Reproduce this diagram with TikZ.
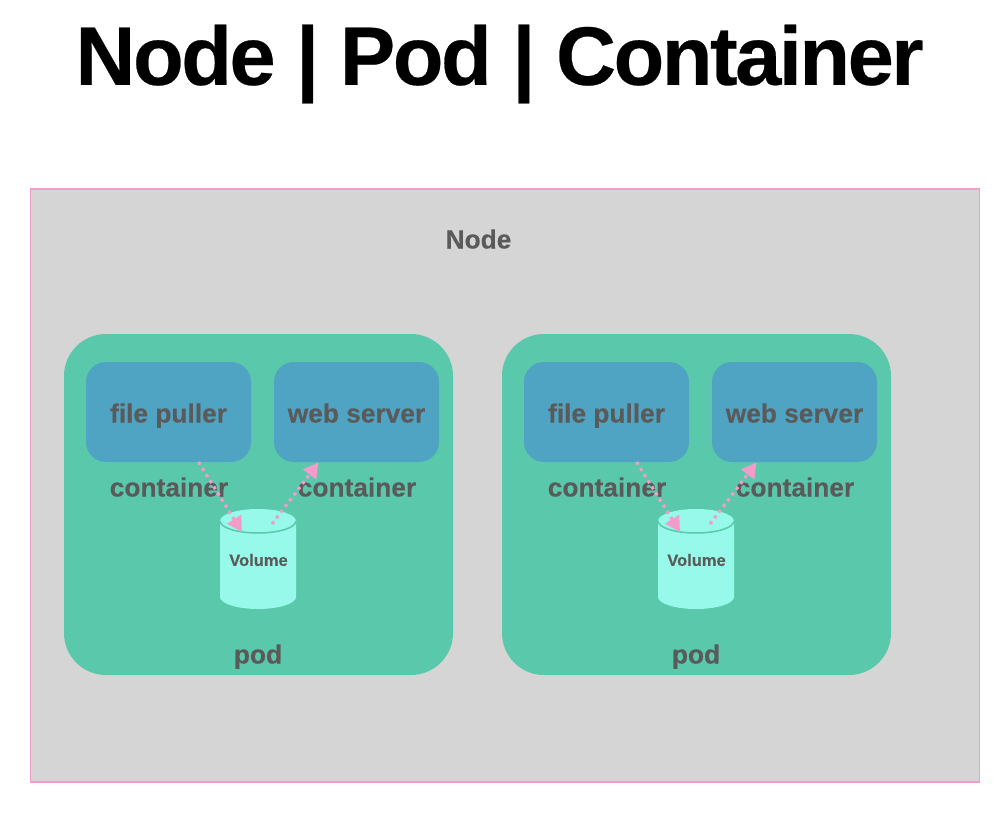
\documentclass[tikz,border=0pt]{standalone}
\usepackage{fontspec}
\setmainfont{Liberation Sans}
\newfontfamily\titlefont[LetterSpace=-3.0,FakeBold=0.3]{Liberation Sans Bold}
\newfontfamily\labelfont[FakeBold=0.2]{Liberation Sans Bold}
\usetikzlibrary{arrows.meta}
\definecolor{nodegray}{HTML}{D5D5D5}
\definecolor{podgreen}{HTML}{5AC8AB}
\definecolor{boxblue}{HTML}{4EA4C2}
\definecolor{voltop}{HTML}{96F9E9}
\definecolor{pinkline}{HTML}{F29CC9}
\definecolor{txt}{HTML}{5A5A5A}
\tikzset{
  x=1pt,y=-1pt,
  lbl/.style={text=txt,font=\labelfont\fontsize{26.3}{30}\selectfont,inner sep=0pt,anchor=center,text height=19pt,text depth=6pt},
  podbox/.style={fill=podgreen,rounded corners=42pt},
  ctrbox/.style={fill=boxblue,rounded corners=20pt},
  flow/.style={draw=pinkline,line width=3.2pt,dash pattern=on 3.2pt off 4pt,-{Triangle[length=15pt,width=16pt,fill=pinkline]}},
}
\begin{document}
\begin{tikzpicture}
\useasboundingbox (0,0) rectangle (1006,816);
\node[inner sep=0pt,text=black,font=\titlefont\fontsize{83}{90}\selectfont] (title) at (499.5,64) {Node | Pod | Container};
\node[draw=pinkline,fill=nodegray,line width=1.2pt,minimum width=949pt,minimum height=593pt,inner sep=0pt] (nodebox) at (505,485.5) {};
\node[lbl] (nodelabel) at (478.5,242) {Node};
\foreach \i/\dx in {1/0,2/438}{
\begin{scope}[xshift=\dx pt]
  \node[podbox,minimum width=389pt,minimum height=341pt,inner sep=0pt] (pod\i) at (258.5,504.5) {};
  \node[ctrbox,minimum width=165pt,minimum height=100pt,inner sep=0pt] (puller\i) at (168.5,412) {};
  \node[ctrbox,minimum width=165pt,minimum height=100pt,inner sep=0pt] (server\i) at (356.5,412) {};
  \node[lbl] (pullertext\i) at (168.5,416) {file puller};
  \node[lbl] (servertext\i) at (356.5,416) {web server};
  \node[lbl] (cleft\i) at (169,490) {container};
  \node[lbl] (cright\i) at (357,490) {container};
  \fill[voltop] (220,521) -- (220,597) arc[start angle=180,end angle=360,x radius=38,y radius=-12] -- (296,521) -- cycle;
  \fill[voltop] (258,521) ellipse[x radius=38,y radius=12];
  \draw[podgreen,line width=1.5pt] (220,521) arc[start angle=180,end angle=360,x radius=38,y radius=-12];
  \node[text=txt,font=\labelfont\fontsize{16.5}{18}\selectfont,inner sep=0pt] (vol\i) at (258.5,560) {Volume};
  \node[lbl] (podlabel\i) at (258,657) {pod};
  \coordinate (a\i) at (198.5,462);
  \coordinate (b\i) at (242,532);
  \coordinate (c\i) at (272,524);
  \coordinate (d\i) at (318.5,462.5);
  \draw[flow] (a\i) -- (b\i);
  \draw[flow] (c\i) -- (d\i);
\end{scope}
}
\end{tikzpicture}
\end{document}
